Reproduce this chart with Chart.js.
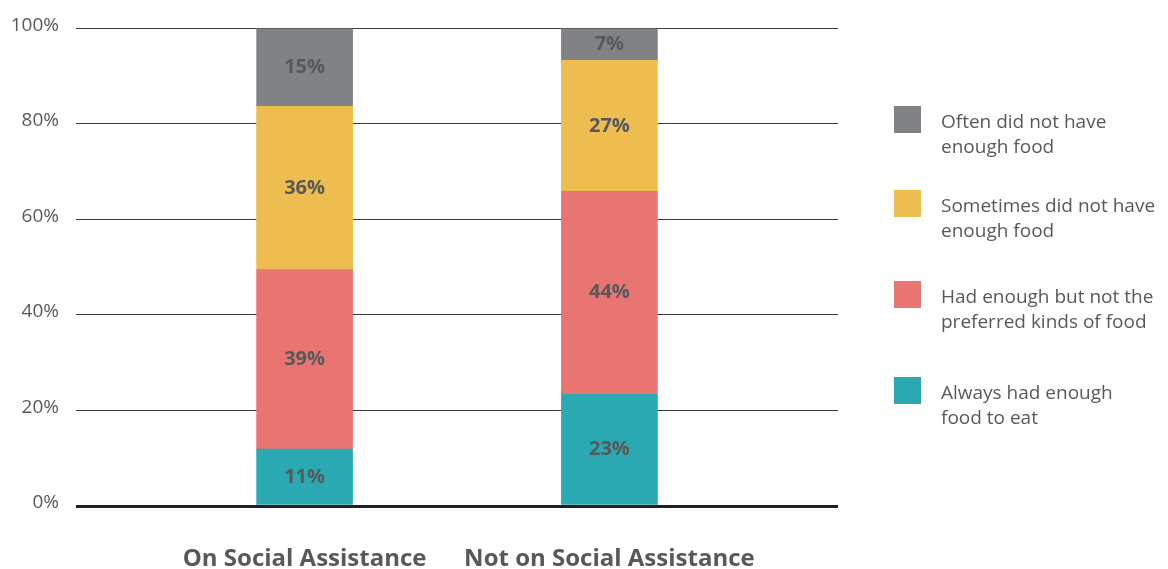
<!DOCTYPE html>
<html>
<head>
<meta charset="utf-8">
<script src="https://cdn.jsdelivr.net/npm/chart.js@4.4.0/dist/chart.umd.min.js"></script>
<style>
  html, body { margin: 0; padding: 0; background: #fff; }
  #wrap { position: relative; width: 1168px; height: 569px; }
  #legend { position: absolute; left: 894px; top: 0; font-family: 'Open Sans'; font-size: 19px; line-height: 25px; color: #58595b; }
  .item { position: absolute; left: 0; width: 274px; }
  .swatch { position: absolute; left: 0; top: 0; width: 27px; height: 27px; }
  .text { position: absolute; left: 47px; top: 3px; white-space: nowrap; }
</style>
</head>
<body>
<div id="wrap">
  <canvas id="chart" width="1168" height="569"></canvas>
  <div id="legend"></div>
</div>
<script>
// categories and where they sit on the (0-10) x axis
const groups = ['On Social Assistance', 'Not on Social Assistance'];
const groupPositions = [3, 7];

// series, bottom of the stack first
const seriesNames = ['Always had enough food to eat', 'Had enough but not the preferred kinds of food', 'Sometimes did not have enough food', 'Often did not have enough food'];
const legendLines = [
    ['Always had enough', 'food to eat'],
    ['Had enough but not the', 'preferred kinds of food'],
    ['Sometimes did not have', 'enough food'],
    ['Often did not have', 'enough food']
];
const seriesColors = ['#2aa9b2', '#e97572', '#eebd4f', '#808285'];

// segment heights as drawn (percent)
const alwaysEnough = [11.9, 23.4];
const enoughNotPreferred = [37.6, 42.5];
const sometimesNot = [34.2, 27.4];
const oftenNot = [16.3, 6.7];

// percentages printed on the segments
const alwaysPrinted = [11, 23];
const notPreferredPrinted = [39, 44];
const sometimesPrinted = [36, 27];
const oftenPrinted = [15, 7];

const yTicks = [0, 20, 40, 60, 80, 100];

const seriesValues = [alwaysEnough, enoughNotPreferred, sometimesNot, oftenNot];
const seriesPrinted = [alwaysPrinted, notPreferredPrinted, sometimesPrinted, oftenPrinted];

const textColor = '#58595b';
const legendTops = [377, 281, 190, 106];

const segmentLabels = {
    id: 'segmentLabels',
    afterDatasetsDraw(chart) {
        const ctx = chart.ctx;
        ctx.save();
        ctx.font = 'bold 20px "Open Sans"';
        ctx.fillStyle = textColor;
        ctx.textAlign = 'center';
        ctx.textBaseline = 'middle';
        chart.data.datasets.forEach((ds, i) => {
            chart.getDatasetMeta(i).data.forEach((bar, j) => {
                const p = bar.getCenterPoint();
                ctx.fillText(ds.printed[j] + '%', p.x, p.y);
            });
        });
        ctx.restore();
    }
};

const datasets = seriesNames.map((name, i) => ({
    label: name,
    data: seriesValues[i].map((v, j) => ({ x: groupPositions[j], y: v })),
    printed: seriesPrinted[i],
    backgroundColor: seriesColors[i],
    borderWidth: 0,
    barThickness: 96
}));

new Chart(document.getElementById('chart'), {
    type: 'bar',
    data: { datasets },
    options: {
        responsive: false,
        animation: false,
        layout: { padding: { top: 28, right: 330, left: 0, bottom: 0 } },
        plugins: { legend: { display: false }, tooltip: { enabled: false } },
        scales: {
            x: {
                type: 'linear',
                min: 0,
                max: 10,
                offset: false,
                stacked: true,
                grid: { display: false, drawTicks: false, offset: false },
                border: { display: false },
                afterBuildTicks: s => { s.ticks = groupPositions.map(v => ({ value: v })); },
                afterFit: s => { s.height = 63; },
                ticks: {
                    autoSkip: false,
                    maxRotation: 0,
                    padding: 39,
                    color: textColor,
                    font: { family: 'Open Sans', size: 24, weight: 'bold' },
                    callback: v => groups[groupPositions.indexOf(v)]
                }
            },
            y: {
                min: 0,
                max: 100,
                stacked: true,
                afterBuildTicks: s => { s.ticks = yTicks.map(v => ({ value: v })); },
                afterFit: s => { s.width = 76; },
                border: { display: false },
                grid: {
                    drawTicks: false,
                    color: ctx => ctx.tick && ctx.tick.value === 0 ? '#231f20' : '#3a3a3a',
                    lineWidth: ctx => ctx.tick && ctx.tick.value === 0 ? 3 : 1
                },
                ticks: {
                    padding: 17,
                    labelOffset: -3,
                    color: textColor,
                    font: { family: 'Open Sans', size: 19 },
                    callback: v => v + '%'
                }
            }
        }
    },
    plugins: [segmentLabels]
});

// legend, top to bottom in reverse stack order
const legend = document.getElementById('legend');
seriesNames.forEach((name, i) => {
    const item = document.createElement('div');
    item.className = 'item';
    item.style.top = legendTops[i] + 'px';
    item.innerHTML = `<div class="swatch" style="background:${seriesColors[i]}"></div>
        <div class="text">${legendLines[i].join('<br>')}</div>`;
    legend.appendChild(item);
});
</script>
</body>
</html>
